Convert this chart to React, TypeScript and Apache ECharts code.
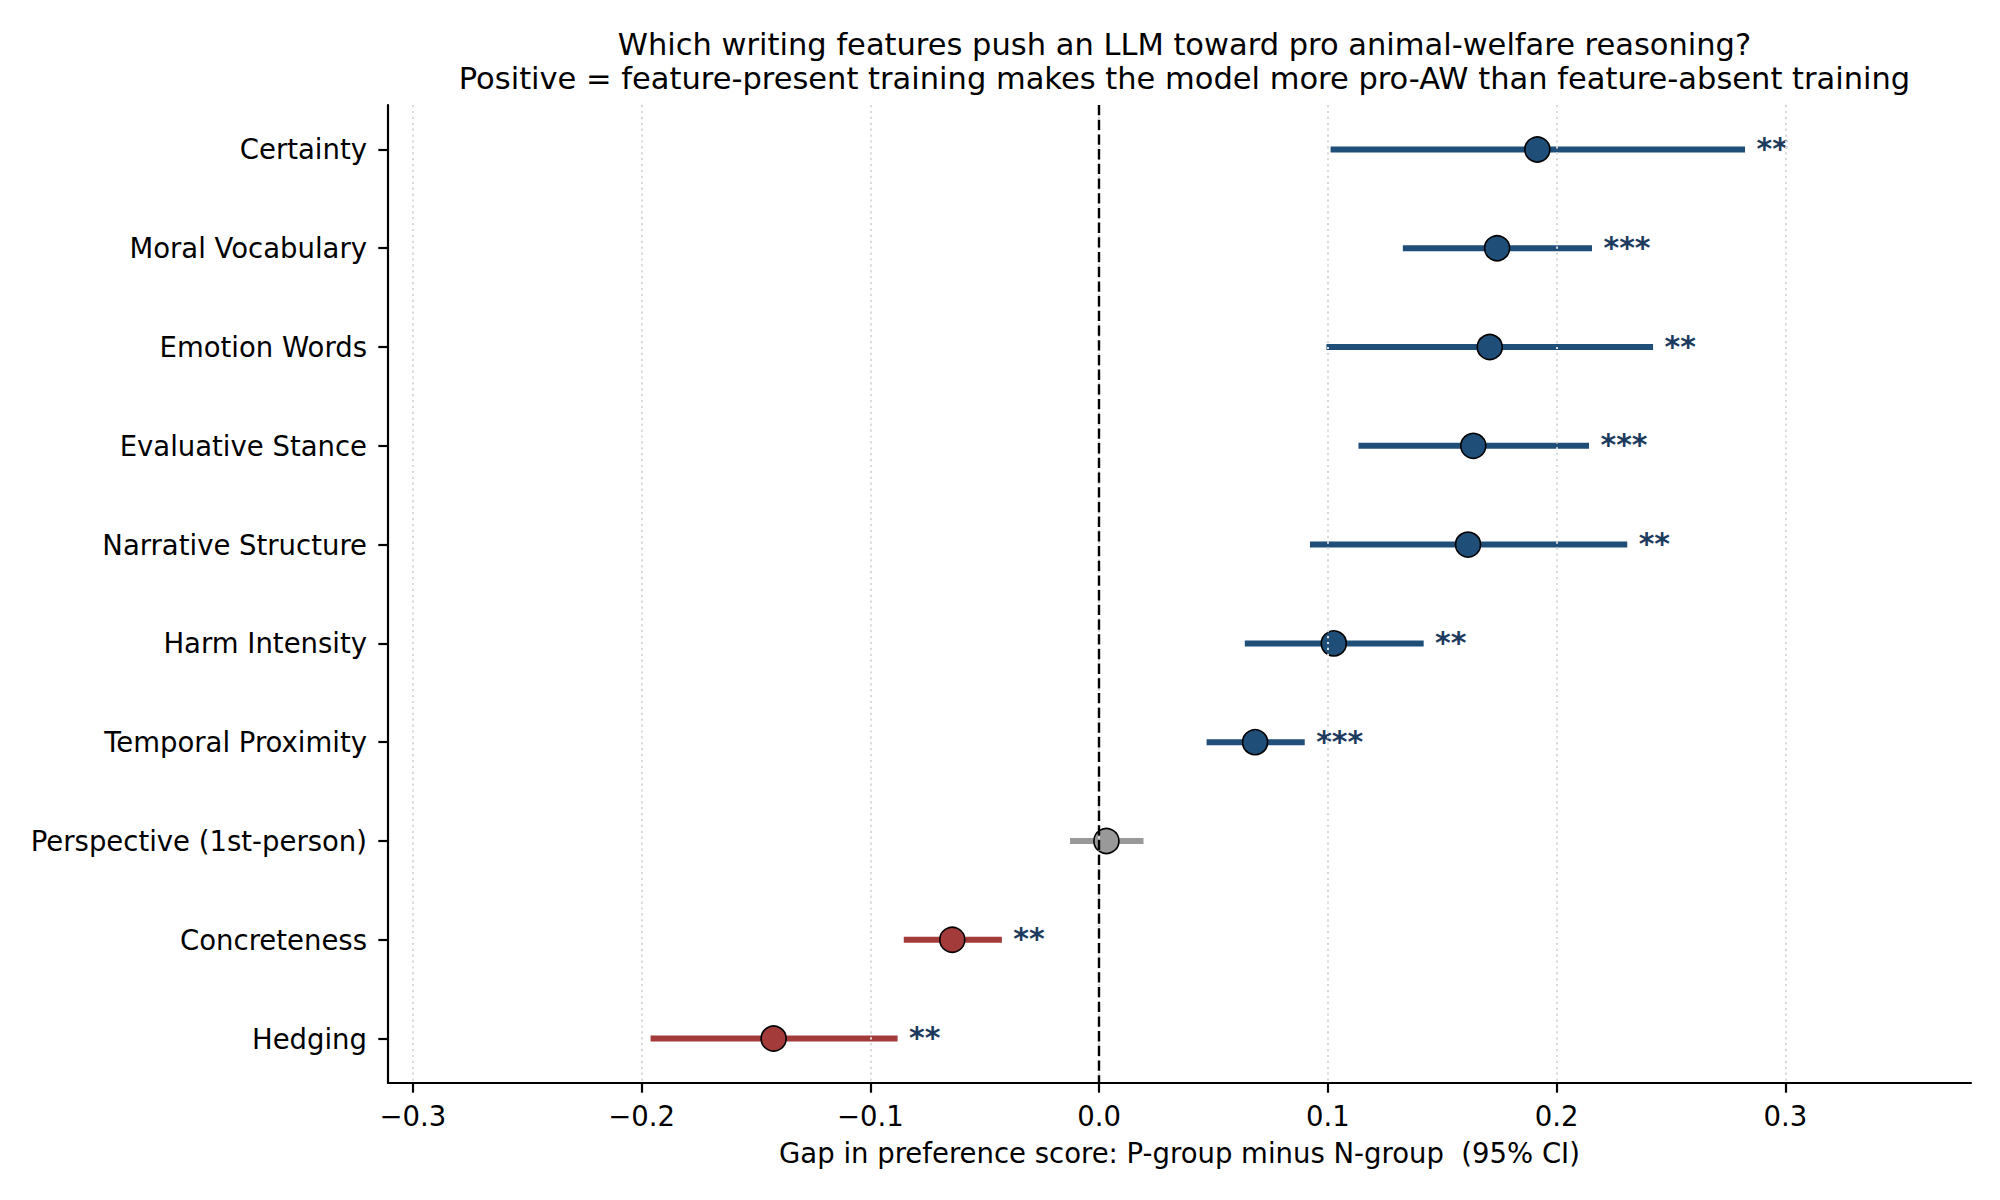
import React, { useEffect, useRef } from "react";
import * as echarts from "echarts";

// Features, ordered top to bottom
const categories = [
  "Certainty",
  "Moral Vocabulary",
  "Emotion Words",
  "Evaluative Stance",
  "Narrative Structure",
  "Harm Intensity",
  "Temporal Proximity",
  "Perspective (1st-person)",
  "Concreteness",
  "Hedging",
];

// Gap estimate (P-group minus N-group) and its 95% CI
const estimates = [0.1916, 0.174, 0.1708, 0.1636, 0.1613, 0.1026, 0.0682, 0.0032, -0.0642, -0.1423];
const ciLow = [0.1012, 0.1328, 0.0994, 0.1134, 0.0922, 0.0637, 0.047, -0.0127, -0.0854, -0.1961];
const ciHigh = [0.2824, 0.2155, 0.2422, 0.2142, 0.2309, 0.1419, 0.0899, 0.0194, -0.0425, -0.0881];
const significance = ["**", "***", "**", "***", "**", "**", "***", "", "**", "**"];

const xTicks = [-0.3, -0.2, -0.1, 0, 0.1, 0.2, 0.3];
const rowIndex = categories.map((_, i) => i);

const BLUE = "#1f4e79";
const RED = "#a33b3b";
const GREY = "#999999";
const STAR = "#1d3b5e";
const FONT = "DejaVu Sans";

const colorFor = (i: number) => (ciLow[i] > 0 ? BLUE : ciHigh[i] < 0 ? RED : GREY);

const fmtTick = (v: number) => (v < 0 ? "\u2212" + Math.abs(v).toFixed(1) : v.toFixed(1));

export default function App() {
  const ref = useRef<HTMLDivElement>(null);

  useEffect(() => {
    if (!ref.current) return;
    const chart = echarts.init(ref.current, undefined, { renderer: "svg" });

    const option: any = {
      animation: false,
      backgroundColor: "#ffffff",
      textStyle: { fontFamily: FONT },
      title: {
        text:
          "Which writing features push an LLM toward pro animal-welfare reasoning?\n" +
          "Positive = feature-present training makes the model more pro-AW than feature-absent training",
        left: 1179.5,
        top: 22,
        textAlign: "center",
        textStyle: {
          fontFamily: FONT,
          fontSize: 30.5,
          fontWeight: "normal",
          color: "#000",
          lineHeight: 34.5,
        },
      },
      grid: { left: 388, top: 105, width: 1583, height: 978 },
      xAxis: {
        type: "value",
        min: -0.3109,
        max: 0.3812,
        name: "Gap in preference score: P-group minus N-group  (95% CI)",
        nameLocation: "middle",
        nameGap: 56,
        nameTextStyle: { fontFamily: FONT, fontSize: 27.5, color: "#000", verticalAlign: "top" },
        axisLine: { show: true, onZero: false, lineStyle: { color: "#000", width: 2.2 } },
        axisTick: {
          show: true,
          length: 9.7,
          customValues: xTicks,
          lineStyle: { color: "#000", width: 2.2 },
        },
        axisLabel: {
          customValues: xTicks,
          margin: 19,
          fontFamily: FONT,
          fontSize: 27.5,
          color: "#000",
          formatter: (v: number) => fmtTick(v),
        },
        splitLine: { show: false },
      },
      yAxis: {
        type: "value",
        inverse: true,
        min: -0.45,
        max: 9.45,
        axisLine: { show: true, onZero: false, lineStyle: { color: "#000", width: 2.2 } },
        axisTick: {
          show: true,
          length: 9.7,
          customValues: rowIndex,
          lineStyle: { color: "#000", width: 2.2 },
        },
        axisLabel: {
          customValues: rowIndex,
          margin: 21,
          fontFamily: FONT,
          fontSize: 27.5,
          color: "#000",
          formatter: (v: number) => categories[Math.round(v)] ?? "",
        },
        splitLine: { show: false },
      },
      series: [
        {
          // reference lines: dotted grid at the ticks, dashed line at zero
          type: "scatter",
          data: [],
          z: 1,
          silent: true,
          markLine: {
            silent: true,
            symbol: "none",
            label: { show: false },
            data: [
              ...xTicks.map((v) => ({
                xAxis: v,
                lineStyle: { color: "#d9d9d9", width: 2, type: [2.2, 3.7] },
              })),
              { xAxis: 0, lineStyle: { color: "#000", width: 2.4, type: [10.3, 4.4] } },
            ],
          },
        },
        {
          // confidence interval bars
          type: "custom",
          z: 2,
          silent: true,
          encode: { x: [0, 1], y: 2 },
          data: rowIndex.map((i) => [ciLow[i], ciHigh[i], i]),
          renderItem: (params: any, api: any) => {
            const i = api.value(2);
            const a = api.coord([api.value(0), i]);
            const b = api.coord([api.value(1), i]);
            return {
              type: "line",
              shape: { x1: a[0], y1: a[1], x2: b[0], y2: b[1] },
              style: { stroke: colorFor(i), lineWidth: 6, lineCap: "butt" },
            };
          },
        },
        {
          // point estimates
          type: "scatter",
          z: 3,
          symbol: "circle",
          symbolSize: 25,
          data: rowIndex.map((i) => ({
            value: [estimates[i], i],
            itemStyle: { color: colorFor(i), borderColor: "#000", borderWidth: 1.6, opacity: 1 },
          })),
        },
        {
          // significance stars next to the upper CI bound
          type: "custom",
          z: 4,
          silent: true,
          encode: { x: 0, y: 1 },
          data: rowIndex.map((i) => [ciHigh[i] + 0.005, i]),
          renderItem: (params: any, api: any) => {
            const i = api.value(1);
            const p = api.coord([api.value(0), i]);
            return {
              type: "text",
              x: p[0],
              y: p[1] - 1,
              style: {
                text: significance[i],
                fill: STAR,
                fontFamily: FONT,
                fontSize: 30,
                fontWeight: "bold",
                align: "left",
                verticalAlign: "middle",
              },
            };
          },
        },
      ],
    };

    chart.setOption(option);
    return () => chart.dispose();
  }, []);

  return (
    <div
      ref={ref}
      style={{ position: "fixed", left: 0, top: 0, width: 2000, height: 1200, background: "#fff" }}
    />
  );
}
